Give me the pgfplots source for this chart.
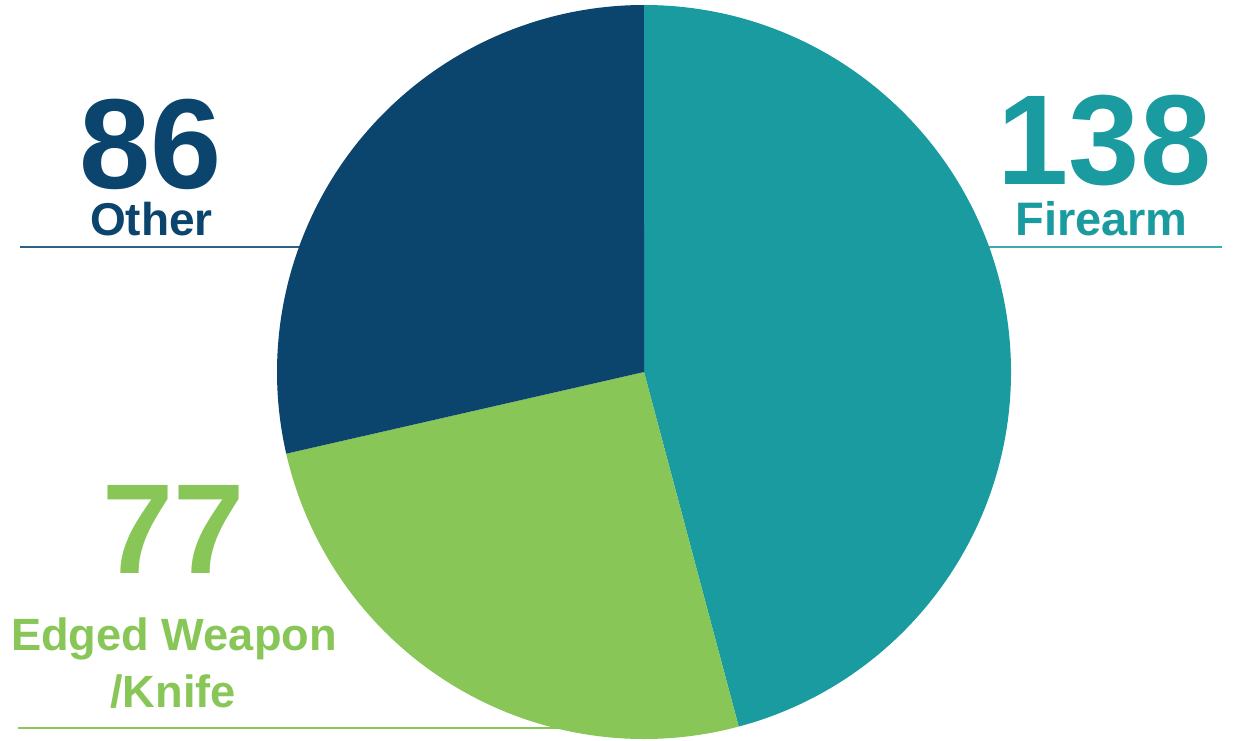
\documentclass[border=0pt]{standalone}
\usepackage{fontspec}
\setmainfont{Liberation Sans}
\usepackage{pgfplots}
\pgfplotsset{compat=1.18}
\definecolor{cF}{HTML}{1A9BA0}
\definecolor{cE}{HTML}{88C657}
\definecolor{cO}{HTML}{0B446D}
\def\vF{138}\def\vE{77}\def\vO{86}
\pgfmathsetmacro\tot{\vF+\vE+\vO}
\pgfmathsetmacro\aF{90-\vF/\tot*360}
\pgfmathsetmacro\aE{\aF-\vE/\tot*360}
\pgfmathsetmacro\aO{\aE-\vO/\tot*360}
\tikzset{
  bignum/.style={anchor=base, inner sep=0pt, text depth=0pt, font=\bfseries\fontsize{64}{64}\selectfont},
  lab/.style={anchor=base, inner sep=0pt, text height=17pt, text depth=0pt, font=\bfseries\fontsize{23}{23}\selectfont}}
\begin{document}
\begin{tikzpicture}
\begin{axis}[
  width=616.5pt, height=370pt, scale only axis,
  xmin=0, xmax=1233, ymin=0, ymax=740,
  axis line style={draw=none}, ticks=none, clip=false]
% label rules (behind the pie)
\draw[cF!85, line width=0.75pt] (axis cs:960,493) -- (axis cs:1222,493);
\draw[cO!85, line width=0.75pt] (axis cs:20,493) -- (axis cs:330,493);
\draw[cE, line width=0.75pt] (axis cs:18,12) -- (axis cs:600,12);
% pie
\fill[cF] (axis cs:644,368) -- ++(90:183.5pt) arc[start angle=90, end angle=\aF, radius=183.5pt] -- cycle;
\fill[cE] (axis cs:644,368) -- ++(\aF:183.5pt) arc[start angle=\aF, end angle=\aE, radius=183.5pt] -- cycle;
\fill[cO] (axis cs:644,368) -- ++(\aE:183.5pt) arc[start angle=\aE, end angle=\aO, radius=183.5pt] -- cycle;
% labels
\node[bignum, text=cF] at (axis cs:1104.5,555) {\vF};
\node[lab, text=cF, font=\bfseries\fontsize{23.5}{23.5}\selectfont] at (axis cs:1101.5,505) {Firearm};
\node[bignum, text=cO] at (axis cs:150.5,552) {\vO};
\node[lab, text=cO] at (axis cs:151.5,505) {Other};
\node[bignum, text=cE] at (axis cs:174,167) {\vE};
\node[lab, text=cE, font=\bfseries\fontsize{22.6}{22.6}\selectfont] at (axis cs:174,90) {Edged Weapon};
\node[lab, text=cE, font=\bfseries\fontsize{22.6}{22.6}\selectfont] at (axis cs:173,33) {/Knife};
\end{axis}
\pgfresetboundingbox
\path (current axis.south west) rectangle (current axis.north east);
\end{tikzpicture}
\end{document}
